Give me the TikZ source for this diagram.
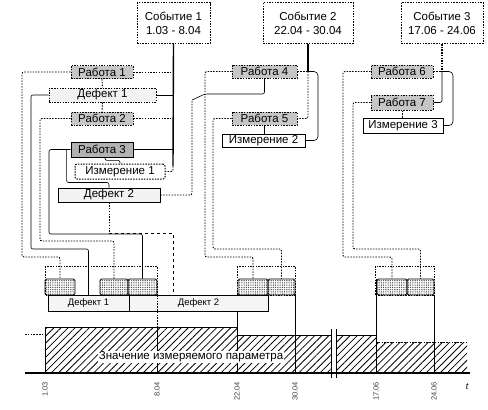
\documentclass[tikz,border=0pt]{standalone}
\usepackage{fontspec}
\setmainfont{Liberation Sans}
\usetikzlibrary{patterns.meta}

\begin{document}
\begin{tikzpicture}[
    x=1pt, y=-1pt,
    box_font/.style={font=\fontsize{11.5}{14}\selectfont},
    dots_line/.style={line width=1pt, dash pattern=on 1.5pt off 1.2pt},
    event_box/.style={draw, dots_line, fill=white, minimum width=#1, minimum height=41, align=center, inner sep=0pt, box_font},
    work_box/.style={draw, dots_line, fill=gray!45, minimum width=62, minimum height=13, inner sep=0pt, box_font},
    defect_box/.style={draw, dots_line, fill=gray!10, minimum height=14, inner sep=0pt, box_font},
    meas_box/.style={draw, thick, fill=white, minimum height=13, inner sep=0pt, box_font},
    block/.style={draw, thick, rounded corners=1.5pt, pattern={Dots[distance=1.8pt, radius=0.45pt]}, minimum height=16, inner sep=0pt},
    bar_box/.style={draw, fill=gray!8, minimum height=16, inner sep=0pt, font=\fontsize{9.5}{11}\selectfont},
    frame/.style={draw, dots_line},
    dot_link/.style={draw, line width=0.9pt, dash pattern=on 1.5pt off 1.3pt, rounded corners=2pt},
    solid_link/.style={draw, semithick, rounded corners=2pt},
    dash_link/.style={draw, dashed, thick},
    event_line/.style={draw, line width=1.4pt},
    hatch/.style={pattern={Lines[angle=45, distance=5pt, line width=0.8pt]}},
    date_label/.style={rotate=90, anchor=east, inner sep=0pt, text=black!75, font=\fontsize{7.5}{8}\selectfont}
]
    \useasboundingbox (0,0) rectangle (488,410);

    % Events
    \node[event_box=73] (ev1) at (173.5,23) {Событие 1\\1.03 - 8.04};
    \node[event_box=90] (ev2) at (308,23) {Событие 2\\22.04 - 30.04};
    \node[event_box=82] (ev3) at (442,23) {Событие 3\\17.06 - 24.06};

    % Works, defects, measurements
    \node[work_box] (r1) at (102,72) {Работа 1};
    \node[defect_box, minimum width=107] (d1) at (102.5,95) {Дефект 1};
    \node[work_box] (r2) at (102,118.5) {Работа 2};
    \node[work_box, solid, thick, fill=gray!60, minimum height=15] (r3) at (102,149.5) {Работа 3};
    \node[meas_box, dots_line, rounded corners=2pt, minimum width=90, minimum height=15] (m1) at (120,171.5) {Измерение 1};
    \node[defect_box, solid, semithick, minimum width=102] (d2) at (109,195) {Дефект 2};
    \node[work_box, minimum width=65] (r4) at (264.5,71.5) {Работа 4};
    \node[work_box, minimum width=65] (r5) at (264.5,118.5) {Работа 5};
    \node[meas_box, minimum width=83] (m2) at (263.5,140.5) {Измерение 2};
    \node[work_box] (r6) at (402,71.5) {Работа 6};
    \node[work_box, minimum height=15] (r7) at (402,102.5) {Работа 7};
    \node[meas_box, minimum width=80, minimum height=15] (m3) at (403,125.5) {Измерение 3};

    % Time line: frames, blocks, defect bars
    \draw[frame] (45,266) rectangle (157,295);
    \draw[frame] (237,266) rectangle (295,295);
    \draw[frame] (375,266) rectangle (434,295);
    \node[block, minimum width=30] (bA) at (60,287) {};
    \node[block, minimum width=28] (bB) at (114,287) {};
    \node[block, minimum width=29] (bC) at (142.5,287) {};
    \node[block, minimum width=30] (bD) at (253,287) {};
    \node[block, minimum width=27] (bE) at (281.5,287) {};
    \node[block, minimum width=30] (bF) at (392,287) {};
    \node[block, minimum width=27] (bG) at (420.5,287) {};
    \node[bar_box, minimum width=81] (bd1) at (88.5,303) {Дефект 1};
    \node[bar_box, minimum width=139] (bd2) at (198.5,303) {Дефект 2};

    % Event 1
    \draw[event_line] (ev1.south) -- (173,166) coordinate (ev1end);
    \draw[dot_link] (ev1end) |- (m1.east);
    \draw[dot_link] (r1.east) -- (r1.east -| ev1.south);
    \draw[solid_link] (d1.east) -- (d1.east -| ev1.south);
    \draw[dot_link] (r2.east) -- (r2.east -| ev1.south);
    \draw[solid_link] (r3.east) -- (r3.east -| ev1.south);
    \draw[dot_link] (r1.south) -- (d1.north);
    \draw[dot_link] (d1.south) -- (r2.north);
    \draw[solid_link] ([xshift=3pt]r3.south) -- ++(0,3) -| (m1.north);
    \draw[solid_link] (r3.west) ++(-4,0) -- ++(0,33) -| (d2.north);
    \draw[dot_link] (r1.west) -| (22,257) -| (bA.north);
    \draw[solid_link] (d1.west) -| (31,249) -| (bd1.north);
    \draw[dot_link] (r2.west) -| (40,241) -| (bB.north);
    \draw[solid_link] (r3.west) -| (49,234) -| (bC.north);

    % Defect 2
    \draw[dot_link] (d2.south) -- ++(0,31) coordinate (d2turn);
    \draw[dash_link] (d2turn) -| ([xshift=-25.5pt]bd2.north);
    \draw[dot_link] (d2.east) -| (192,100);
    \draw[solid_link] (192,100) -- (205,94) -| (r4.south);

    % Event 2
    \draw[event_line] (ev2.south) -- (r4.east -| ev2.south);
    \draw[dot_link] (r4.east) -- (r4.east -| ev2.south);
    \draw[dot_link] (r4.east -| ev2.south) |- (r5.east);
    \draw[solid_link, rounded corners=4pt] (r4.east -| ev2.south) -| (318,100) |- (m2.east);
    \draw[solid_link] (r5.south) -- (r5.south |- m2.north);
    \draw[dot_link] (r4.west) -| (205,257) -| (bD.north);
    \draw[dot_link] (r5.west) -| (213,249) -| (bE.north);

    % Event 3
    \draw[event_line, dots_line, line width=1.2pt] (ev3.south) -- (r6.east -| ev3.south);
    \draw[dot_link] (r6.east) -- (r6.east -| ev3.south);
    \draw[solid_link] (r6.east -| ev3.south) |- (r7.east);
    \draw[solid_link, rounded corners=4pt] (r6.east -| ev3.south) -| (453,100) |- (m3.east);
    \draw[dot_link] (r7.south) -- (r7.south |- m3.north);
    \draw[dot_link] (r6.west) -| (343,257) -| (bF.north);
    \draw[dot_link] (r7.west) -| (353,249) -| (bG.north);

    % Measured parameter
    \fill[hatch] (45,327) rectangle (237,373);
    \fill[hatch] (237,335) rectangle (376,373);
    \fill[hatch] (376,342) rectangle (467,373);
    \draw[thick] (45,373) -- (45,327) -- (237,327) -- (237,335) -- (376,335);
    \draw[dot_link] (376,342) -- (467,342);
    \draw[dot_link] (25,334) -- (45,334);
    \draw[dot_link] (157,295) -- (157,327);
    \draw[semithick] (157,327) -- (157,373);
    \draw[semithick] (237,311) -- (237,373);
    \draw[semithick] (295,295) -- (295,373);
    \draw[semithick] (376,279) -- (376,373);
    \draw[semithick] (434,295) -- (434,373);
    \fill[white] (331,329) rectangle (336,378);
    \draw[semithick] (331,329) -- (331,378) (336,329) -- (336,378);
    \draw[line width=1.4pt] (25,373) -- (470,373);
    \node[fill=white, inner sep=1pt, box_font] (param) at (191,357) {Значение измеряемого параметра};

    % Dates
    \foreach \x/\d [count=\i] in {45/1.03, 157/8.04, 237/22.04, 295/30.04, 376/17.06, 434/24.06} {
        \node[date_label] (date\i) at (\x,382) {\d};
    }
    \node[font=\itshape\fontsize{9}{10}\selectfont] (taxis) at (467,387) {t};

\end{tikzpicture}
\end{document}
